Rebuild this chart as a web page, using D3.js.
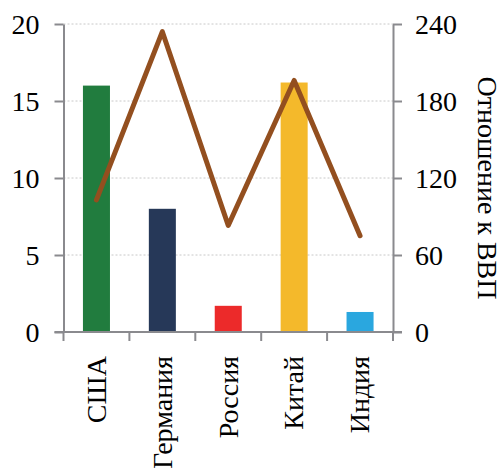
<!DOCTYPE html>
<html>
<head>
<meta charset="utf-8">
<script src="https://cdn.jsdelivr.net/npm/d3@7"></script>
<style>
  html, body { margin: 0; padding: 0; background: #fff; }
  svg { display: block; }
  text { font-family: "Liberation Serif", "Times New Roman", serif; fill: #000; }
</style>
</head>
<body>
<svg id="chart" width="502" height="468"></svg>
<script>
// Countries, bar values (left axis) and line values (right axis, % of GDP)
const countries = ["США", "Германия", "Россия", "Китай", "Индия"];
const barValues = [16, 8, 1.7, 16.2, 1.3];
const ratioValues = [103, 234, 83, 196, 75];
const barColors = ["#217c3e", "#263858", "#ec2a2a", "#f4b92b", "#2aa7df"];
const leftTicks = [0, 5, 10, 15, 20];
const rightTicks = [0, 60, 120, 180, 240];
const rightTitle = "Отношение к ВВП";

const svg = d3.select("#chart");
const m = { left: 63.5, right: 393, top: 24, bottom: 332 };
const axisColor = "#8a8a8e";
const fontSize = 28;
const fontFamily = "'Liberation Serif', 'Times New Roman', serif";

const x = d3.scaleBand().domain(countries).range([m.left, m.right]).paddingInner(0.59).paddingOuter(0.295);
const xTicks = d3.scaleBand().domain(countries).range([m.left, m.right]);
const yL = d3.scaleLinear().domain([0, 20]).range([m.bottom, m.top]);
const yR = d3.scaleLinear().domain([0, 240]).range([m.bottom, m.top]);

// dotted grid lines
svg.append("g").selectAll("line").data(leftTicks.filter(d => d > 0)).join("line")
  .attr("x1", m.left).attr("x2", m.right)
  .attr("y1", d => yL(d)).attr("y2", d => yL(d))
  .attr("stroke", "#c8c8c8").attr("stroke-width", 1).attr("stroke-dasharray", "2,2");

// bars
svg.append("g").selectAll("rect").data(countries).join("rect")
  .attr("x", d => x(d)).attr("width", x.bandwidth())
  .attr("y", (d, i) => yL(barValues[i]))
  .attr("height", (d, i) => yL(0) - yL(barValues[i]))
  .attr("fill", (d, i) => barColors[i]);

// line on right axis scale
const line = d3.line()
  .x((d, i) => xTicks(countries[i]) + xTicks.bandwidth() / 2)
  .y(d => yR(d));
svg.append("path").datum(ratioValues)
  .attr("d", line).attr("fill", "none")
  .attr("stroke", "#934f1f").attr("stroke-width", 5)
  .attr("stroke-linejoin", "round").attr("stroke-linecap", "round");

function styleAxis(g) {
  g.selectAll(".domain").attr("stroke", axisColor).attr("stroke-width", 2);
  g.selectAll(".tick line").attr("stroke", axisColor).attr("stroke-width", 2);
  g.selectAll(".tick text").style("font-size", fontSize + "px")
    .style("font-family", fontFamily).attr("fill", "#000");
}

// left axis
const gL = svg.append("g").attr("transform", `translate(${m.left},0)`)
  .call(d3.axisLeft(yL).tickValues(leftTicks).tickSize(9).tickSizeOuter(0).tickPadding(15));
styleAxis(gL);
gL.selectAll(".tick text").attr("dy", "0.34em");

// right axis
const gR = svg.append("g").attr("transform", `translate(${m.right},0)`)
  .call(d3.axisRight(yR).tickValues(rightTicks).tickSize(9).tickSizeOuter(0).tickPadding(13));
styleAxis(gR);
gR.selectAll(".tick text").attr("dy", "0.34em");

// bottom axis with ticks on category boundaries
const boundaries = countries.map(c => xTicks(c)).concat([m.right]);
const gB = svg.append("g");
gB.append("line").attr("x1", m.left - 9).attr("x2", m.right + 9)
  .attr("y1", m.bottom).attr("y2", m.bottom)
  .attr("stroke", axisColor).attr("stroke-width", 2);
gB.selectAll("line.t").data(boundaries).join("line").attr("class", "t")
  .attr("x1", d => d).attr("x2", d => d)
  .attr("y1", m.bottom).attr("y2", m.bottom + 9)
  .attr("stroke", axisColor).attr("stroke-width", 2);
gB.selectAll("text").data(countries).join("text")
  .attr("transform", d => `translate(${xTicks(d) + xTicks.bandwidth() / 2},${m.bottom + 24}) rotate(-90)`)
  .attr("text-anchor", "end").attr("dy", "0.33em")
  .style("font-size", fontSize + "px").style("font-family", fontFamily)
  .text(d => d);

// right axis title
svg.append("text")
  .attr("transform", `translate(478,188) rotate(90)`)
  .attr("text-anchor", "middle")
  .style("font-size", fontSize + "px").style("font-family", fontFamily)
  .text(rightTitle);
</script>
</body>
</html>
